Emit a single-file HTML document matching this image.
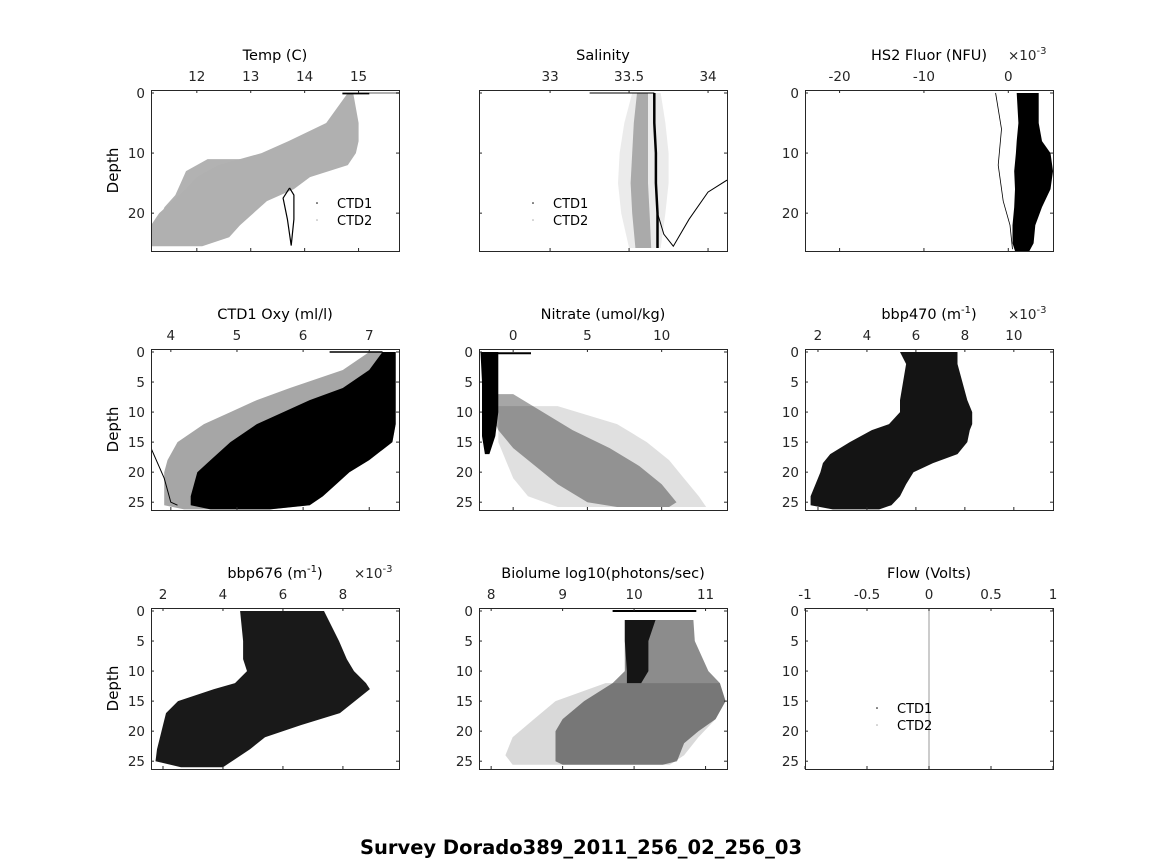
<!DOCTYPE html>
<html><head><meta charset="utf-8"><style>
html,body{margin:0;padding:0;background:#fff;}
svg{display:block;font-family:"DejaVu Sans","Liberation Sans",sans-serif;}
</style></head><body>
<svg id="fig" width="1164" height="864" viewBox="0 0 1164 864" xmlns="http://www.w3.org/2000/svg">
<rect width="1164" height="864" fill="#fff"/>
<text x="581" y="854" text-anchor="middle" font-size="19.5" font-weight="bold" fill="#000">Survey Dorado389_2011_256_02_256_03</text>
</svg>
<script>
// ---- data arrays (depth, left/right envelope of each point cloud) ----
const tempDepth=[0,5,8,10,12,14,16,18,20,22,24,25.5];
const tempLo=[14.8,14.4,13.7,13.2,12.4,12.0,11.8,11.55,11.3,11.15,11.15,11.15];
const tempHi=[14.9,15.0,15.0,14.95,14.8,14.1,13.8,13.3,13.05,12.8,12.6,12.1];
const tempSpeckDepth=[11,13,15,17,19,21];
const tempSpeckLo=[12.2,11.8,11.7,11.6,11.4,11.3];
const tempSpeckHi=[13.6,12.8,12.4,12.1,11.9,11.7];
const tempLoopX=[13.72,13.6,13.68,13.75,13.8,13.8,13.72];
const tempLoopD=[15.8,17.5,21,25.4,21,17,15.8];
const tempTicks=[12,13,14,15];

const salDepth=[0,5,10,15,20,25.8];
const salLo=[33.55,33.53,33.52,33.51,33.52,33.54];
const salHi=[33.62,33.62,33.62,33.62,33.63,33.64];
const salSpeckLo=[33.52,33.47,33.44,33.43,33.45,33.5];
const salSpeckHi=[33.7,33.73,33.75,33.75,33.73,33.7];
const salLineX=[33.66,33.66,33.67,33.67,33.68,33.68];
const salCurveX=[33.68,33.72,33.78,33.88,34.0,34.12];
const salCurveD=[20,23.5,25.5,21,16.5,14.5];
const salTicks=[33,33.5,34];

const fluDepth=[0,5,8,10,13,16,19,22,25,26.3];
const fluLo=[1.0,1.2,1.0,0.9,0.7,0.8,0.7,0.5,0.5,0.8];
const fluHi=[3.6,3.6,4.0,5.0,5.3,5.0,4.0,3.2,3.0,2.5];
const fluTicks=[-20,-10,0];

const oxyDepth=[0,3,6,8,10,12,15,18,20,22,24,25.5,26.2];
const oxyLo=[7.2,7.0,6.6,6.1,5.7,5.3,4.9,4.6,4.4,4.35,4.3,4.3,4.6];
const oxyHi=[7.4,7.4,7.4,7.4,7.4,7.4,7.35,7.0,6.7,6.5,6.3,6.1,5.5];
const oxyLineLo=[7.0,6.6,5.8,5.3,4.9,4.5,4.1,3.95,3.9,3.9,3.9,3.9,4.2];
const oxyTicks=[4,5,6,7];

const nitColDepth=[0,5,10,14,17];
const nitColLo=[-2.2,-2.1,-2.1,-2.1,-1.9];
const nitColHi=[-1.0,-1.0,-1.0,-1.2,-1.6];
const nitMidDepth=[7,10,13,16,19,22,25,25.8];
const nitMidLo=[-1.5,-1.5,-1,0,1.5,3,5,7];
const nitMidHi=[0,2,4,6.5,8.5,10,11,10.5];
const nitSprayDepth=[9,12,15,18,21,24,25.8];
const nitSprayLo=[-1,-1,-1,-0.5,0,1,3];
const nitSprayHi=[3,7,9,10.5,11.5,12.5,13];
const nitTicks=[0,5,10];

const b470Depth=[0,2,8,10,12,13,15,17,18.5,20,22,24,25.5,26.2];
const b470Lo=[5.35,5.6,5.35,5.35,4.9,4.2,3.3,2.5,2.2,2.1,1.9,1.7,1.7,2.6];
const b470Hi=[7.7,7.7,8.1,8.3,8.3,8.2,8.1,7.7,6.7,5.9,5.6,5.35,5.0,4.5];
const b470Ticks=[2,4,6,8,10];

const b676Depth=[0,5,8,10,12,13,15,17,19,21,23,25,26];
const b676Lo=[4.57,4.67,4.67,4.8,4.4,3.7,2.5,2.1,2.0,1.9,1.8,1.75,2.6];
const b676Hi=[7.37,7.87,8.13,8.37,8.77,8.9,8.4,7.9,6.6,5.4,4.9,4.3,4.0];
const b676Ticks=[2,4,6,8];

const bioColDepth=[1.5,5,10,12];
const bioColLo=[9.87,9.87,9.9,9.9];
const bioColHi=[10.3,10.2,10.2,10.1];
const bioMidDepth=[1.5,5,10,12,15,18,20,22,25,25.6];
const bioMidLo=[9.87,9.87,9.87,9.7,9.3,9.0,8.9,8.9,8.9,9.0];
const bioMidHi=[10.83,10.85,11.04,11.2,11.28,11.14,10.9,10.7,10.6,10.4];
const bioSprayDepth=[12,15,18,21,24,25.6];
const bioSprayLo=[9.6,8.9,8.6,8.3,8.2,8.3];
const bioSprayHi=[11.2,11.28,11.14,10.9,10.7,10.5];
const bioTicks=[8,9,10,11];

const flowTicks=[-1,-0.5,0,0.5,1];
const flowValue=[0];
const depthTicksA=[0,10,20];
const depthTicksB=[0,5,10,15,20,25];

const NS='http://www.w3.org/2000/svg';
const svg=document.getElementById('fig');
function mk(tag,attrs,parent){const e=document.createElementNS(NS,tag);for(const k in attrs)e.setAttribute(k,attrs[k]);(parent||svg).appendChild(e);return e;}

const colX=[151,479,805], W=248, rowTop=[90,349,608], H=161, YMIN=-0.5, YMAX=26.3;

function makePanel(o){
  const x0=colX[o.col], top=rowTop[o.row];
  const sx=v=>x0+(v-o.xd[0])/(o.xd[1]-o.xd[0])*W;
  const sy=d=>top+(d-YMIN)/(YMAX-YMIN)*H;
  const g=mk('g',{});
  
  
  const cp='clip-'+o.name;
  const defs=mk('defs',{},g);const c=mk('clipPath',{id:cp},defs);mk('rect',{x:x0,y:top,width:W,height:H},c);
  const plot=mk('g',{'clip-path':'url(#'+cp+')'},g);
  return {x0,top,sx,sy,g,plot,o};
}
function band(P,depth,lo,hi,fill,op,name){
  const pts=[];
  for(let i=0;i<depth.length;i++)pts.push(P.sx(lo[i]).toFixed(1)+','+P.sy(depth[i]).toFixed(1));
  for(let i=depth.length-1;i>=0;i--)pts.push(P.sx(hi[i]).toFixed(1)+','+P.sy(depth[i]).toFixed(1));
  const e=mk('polygon',{points:pts.join(' '),fill:fill,'fill-opacity':op},P.plot);
  
  
}
function line(P,xs,ds,stroke,sw,name){
  const pts=xs.map((v,i)=>P.sx(v).toFixed(1)+','+P.sy(ds[i]).toFixed(1)).join(' ');
  const e=mk('polyline',{points:pts,fill:'none',stroke:stroke,'stroke-width':sw},P.plot);
  
  
}
function finish(P,xticks,xlabels,yticks,showY,title,exp){
  const {x0,top,sx,sy,g}=P;
  const box=mk('rect',{x:x0+0.5,y:top+0.5,width:W,height:H,fill:'none',stroke:'#262626','stroke-width':1},g);
  
  
  xticks.forEach((t,i)=>{
    const x=sx(t);
    mk('line',{x1:x,y1:top,x2:x,y2:top+3,stroke:'#262626'},g);
    mk('line',{x1:x,y1:top+H,x2:x,y2:top+H-3,stroke:'#262626'},g);
    const tx=mk('text',{x:x,y:top-9,'text-anchor':'middle','font-size':13.5,fill:'#262626'},g);
    tx.textContent=xlabels[i];
    
    
  });
  yticks.forEach(t=>{
    const y=sy(t);
    mk('line',{x1:x0,y1:y,x2:x0+3,y2:y,stroke:'#262626'},g);
    mk('line',{x1:x0+W,y1:y,x2:x0+W-3,y2:y,stroke:'#262626'},g);
    if(showY){
      const tx=mk('text',{x:x0-6,y:y+5,'text-anchor':'end','font-size':13.5,fill:'#262626'},g);
      tx.textContent=t;
      
      
    }
  });
  const tt=mk('text',{x:x0+W/2,y:top-30,'text-anchor':'middle','font-size':14.5,fill:'#000'},g);
  tt.innerHTML=title;
  
  
  if(exp){
    const e=mk('text',{x:x0+W-45,y:top-30,'font-size':13.5,fill:'#262626'},g);
    e.innerHTML='×10<tspan dy="-6" font-size="10">-3</tspan>';
    
    
  }
}
function ylab(row){
  const top=rowTop[row];
  const t=mk('text',{x:0,y:0,'text-anchor':'middle','font-size':15,fill:'#000',transform:'translate(118,'+(top+H/2)+') rotate(-90)'});
  t.textContent='Depth';
  
  
}
function legend(x,y){
  mk('circle',{cx:x-20,cy:y-5,r:0.8,fill:'#000'});
  const t1=mk('text',{x:x,y:y,'font-size':13,fill:'#000'});t1.textContent='CTD1';
  
  
  mk('circle',{cx:x-20,cy:y+12,r:0.8,fill:'#aaa'});
  const t2=mk('text',{x:x,y:y+17,'font-size':13,fill:'#000'});t2.textContent='CTD2';
  
  
}

// Temp
let P=makePanel({name:'temp',col:0,row:0,xd:[11.15,15.75]});
band(P,tempSpeckDepth,tempSpeckLo,tempSpeckHi,'#000',0.3,'temp-ctd1-cloud');
band(P,tempDepth,tempLo,tempHi,'#b0b0b0',1,'temp-ctd2-cloud');
line(P,[14.7,15.75],[0,0],'#b0b0b0',2,'temp-surface');
line(P,[14.7,15.2],[0.1,0.1],'#000',1.5,'temp-surface-ctd1');
line(P,tempLoopX,tempLoopD,'#000',1.2,'temp-loop-line');
finish(P,tempTicks,tempTicks,depthTicksA,true,'Temp (C)',false);
legend(337,208);ylab(0);

// Salinity
P=makePanel({name:'salinity',col:1,row:0,xd:[32.55,34.12]});
band(P,salDepth,salSpeckLo,salSpeckHi,'#000',0.08,'sal-ctd1-speckle');
band(P,salDepth,salLo,salHi,'#aaa',1,'sal-ctd2-cloud');
line(P,salLineX,salDepth,'#000',2.5,'sal-ctd1-line');
line(P,[33.25,33.66],[0,0],'#000',1,'sal-surface');
line(P,salCurveX,salCurveD,'#000',1,'sal-curve');
finish(P,salTicks,['33','33.5','34'],depthTicksA,false,'Salinity',false);
legend(553,208);

// Fluor
P=makePanel({name:'fluor',col:2,row:0,xd:[-24.1,5.3]});
line(P,[-1.5,-0.8,-1.2,-0.6,0.2,0.5],[0,6,12,18,22,26],'#000',0.8,'fluor-trace');
band(P,fluDepth,fluLo,fluHi,'#000',1,'fluor-cloud');
finish(P,fluTicks,fluTicks,depthTicksA,true,'HS2 Fluor (NFU)',true);

// Oxy
P=makePanel({name:'oxy',col:0,row:1,xd:[3.7,7.45]});
band(P,oxyDepth,oxyLineLo,oxyHi,'#000',0.35,'oxy-lines');
band(P,oxyDepth,oxyLo,oxyHi,'#000',1,'oxy-cloud');
line(P,[6.4,7.2],[0,0],'#000',1.5,'oxy-surface');
line(P,[3.7,3.9,4.0,4.1],[16,21,25,25.5],'#000',1,'oxy-outlier-line');
finish(P,oxyTicks,oxyTicks,depthTicksB,true,'CTD1 Oxy (ml/l)',false);
ylab(1);

// Nitrate
P=makePanel({name:'nitrate',col:1,row:1,xd:[-2.3,14.4]});
band(P,nitSprayDepth,nitSprayLo,nitSprayHi,'#000',0.12,'nitrate-spray');
band(P,nitMidDepth,nitMidLo,nitMidHi,'#000',0.35,'nitrate-cloud');
band(P,nitColDepth,nitColLo,nitColHi,'#000',1,'nitrate-column');
line(P,[-2,1.2],[0.2,0.2],'#000',2,'nitrate-surface');
finish(P,nitTicks,nitTicks,depthTicksB,true,'Nitrate (umol/kg)',false);

// bbp470
P=makePanel({name:'bbp470',col:2,row:1,xd:[1.47,11.6]});
band(P,b470Depth,b470Lo,b470Hi,'#000',0.92,'bbp470-cloud');
finish(P,b470Ticks,b470Ticks,depthTicksB,true,'bbp470 (m<tspan dy="-6" font-size="10">-1</tspan><tspan dy="6">)</tspan>',true);

// bbp676
P=makePanel({name:'bbp676',col:0,row:2,xd:[1.6,9.87]});
band(P,b676Depth,b676Lo,b676Hi,'#000',0.9,'bbp676-cloud');
finish(P,b676Ticks,b676Ticks,depthTicksB,true,'bbp676 (m<tspan dy="-6" font-size="10">-1</tspan><tspan dy="6">)</tspan>',true);
ylab(2);

// Biolume
P=makePanel({name:'biolume',col:1,row:2,xd:[7.83,11.3]});
band(P,bioSprayDepth,bioSprayLo,bioSprayHi,'#000',0.15,'biolume-spray');
band(P,bioMidDepth,bioMidLo,bioMidHi,'#000',0.45,'biolume-cloud');
band(P,bioColDepth,bioColLo,bioColHi,'#000',0.85,'biolume-column');
line(P,[9.7,10.87],[0,0],'#000',2,'biolume-surface');
finish(P,bioTicks,bioTicks,depthTicksB,true,'Biolume log10(photons/sec)',false);

// Flow
P=makePanel({name:'flow',col:2,row:2,xd:[-1,1]});
line(P,[flowValue[0],flowValue[0]],[YMIN,YMAX],'#aaa',1.2,'flow-line');
finish(P,flowTicks,['-1','-0.5','0','0.5','1'],depthTicksB,true,'Flow (Volts)',false);
legend(897,713);
</script>
</body></html>
